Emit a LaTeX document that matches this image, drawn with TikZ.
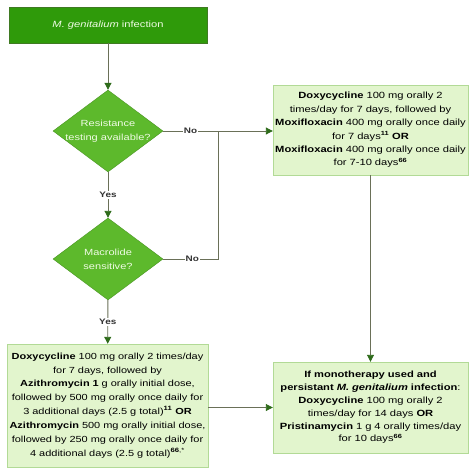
\documentclass[tikz,border=0pt]{standalone}
\usepackage{fontspec}
\setmainfont{Liberation Sans}[FakeStretch=1.24]
\usetikzlibrary{shapes.geometric,arrows.meta}
\definecolor{darkbox}{HTML}{2F9A0A}
\definecolor{darkboxline}{HTML}{3F7A22}
\definecolor{diafill}{HTML}{5DB92C}
\definecolor{lightfill}{HTML}{E2F5CD}
\definecolor{lightline}{HTML}{B2DA96}
\definecolor{conn}{HTML}{6A7058}
\definecolor{tipcol}{HTML}{2E6B1A}
\definecolor{lighttext}{HTML}{EFFBE4}
\tikzset{
  topbox/.style={draw=darkboxline, fill=darkbox, text=lighttext, font=\fontsize{9}{10}\selectfont, minimum width=198pt, minimum height=36pt, inner sep=0pt},
  decision/.style={diamond, draw=diafill!80!black, fill=diafill, minimum width=110pt, minimum height=82pt, inner sep=0pt},
  dtext/.style={text=lighttext, font=\fontsize{8.9}{14}\selectfont, align=center, inner sep=0pt},
  drugbox/.style={draw=lightline, fill=lightfill, text=black, align=center, inner sep=0pt},
  conline/.style={draw=conn, line width=0.9pt},
  arr/.style={conline, -{Triangle[length=7pt,width=7pt,color=tipcol]}},
  lbl/.style={fill=white, inner sep=1pt, font=\fontsize{8}{9}\selectfont\bfseries, text=black!80}
}
\begin{document}
\begin{tikzpicture}[x=1pt,y=-1pt]
\useasboundingbox (0,0) rectangle (474,474);
\node[topbox] (start) at (108,25) {\textit{M. genitalium} infection};
\node[decision] (d1) at (108,131) {};
\node[dtext] (d1t) at (d1.center) {Resistance\\testing available?};
\node[decision] (d2) at (108,259) {};
\node[dtext] (d2t) at (d2.center) {Macrolide\\sensitive?};
\node[drugbox, minimum width=195pt, minimum height=90pt, text width=194pt, font=\fontsize{9}{13.4}\selectfont] (r1) at (370.5,130)
 {\textbf{Doxycycline} 100 mg orally 2\\times/day for 7 days, followed by\\\textbf{Moxifloxacin} 400 mg orally once daily\\for 7 days\textsuperscript{\textbf{11}} \textbf{OR}\\\textbf{Moxifloxacin} 400 mg orally once daily\\for 7-10 days\textsuperscript{\textbf{66}}};
\node[drugbox, minimum width=201pt, minimum height=123pt, text width=200pt, font=\fontsize{8.85}{13.9}\selectfont] (l2) at (107.5,405.5)
 {\textbf{Doxycycline} 100 mg orally 2 times/day\\for 7 days, followed by\\\textbf{Azithromycin 1} g orally initial dose,\\followed by 500 mg orally once daily for\\3 additional days (2.5 g total)\textsuperscript{\textbf{11}} \textbf{OR}\\\textbf{Azithromycin} 500 mg orally initial dose,\\followed by 250 mg orally once daily for\\4 additional days (2.5 g total)\textsuperscript{\textbf{66},*}};
\node[drugbox, minimum width=195pt, minimum height=91pt, text width=194pt, font=\fontsize{9}{12.8}\selectfont] (r2) at (370.5,407.5)
 {\textbf{If monotherapy used and}\\\textbf{persistant \textit{M. genitalium} infection}:\\\textbf{Doxycycline} 100 mg orally 2\\times/day for 14 days \textbf{OR}\\\textbf{Pristinamycin} 1 g 4 orally times/day\\for 10 days\textsuperscript{\textbf{66}}};
\coordinate (j1) at (218,131);
\coordinate (j2) at (218,259);
\draw[arr] (start) -- (d1);
\draw[arr] (d1) -- node[lbl]{Yes} (d2);
\draw[arr] (d2) -- node[lbl]{Yes} (l2);
\draw[arr] (d1.east) -- node[lbl, pos=0.25]{No} (d1.east -| r1.west);
\draw[conline] (d2) -- node[lbl, pos=0.53]{No} (j2) -- (j1);
\draw[arr] (r1) -- (r2);
\draw[arr] (l2.east |- r2.west) -- (r2.west);
\end{tikzpicture}
\end{document}
